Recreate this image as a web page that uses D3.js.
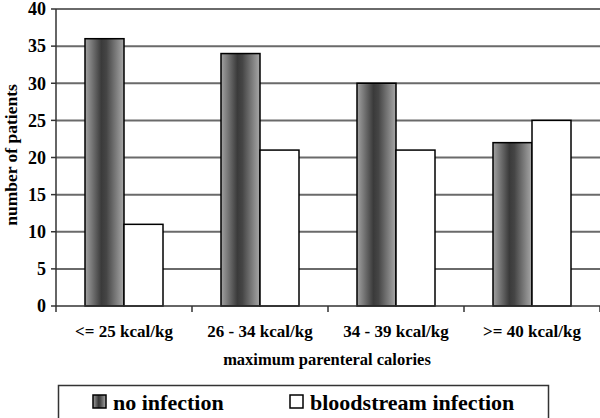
<!DOCTYPE html>
<html><head><meta charset="utf-8">
<script src="https://cdn.jsdelivr.net/npm/d3@7"></script>
</head><body style="margin:0">
<svg id="c" width="600" height="418"></svg>
<script>
const categories = ["<= 25 kcal/kg", "26 - 34 kcal/kg", "34 - 39 kcal/kg", ">= 40 kcal/kg"];
const seriesNames = ["no infection", "bloodstream infection"];
const noInfection = [36, 34, 30, 22];
const bloodstream = [11, 21, 21, 25];
const yTicks = [0, 5, 10, 15, 20, 25, 30, 35, 40];

const svg = d3.select("#c");
const m = {l: 56, r: 600, t: 9, b: 306};
const defs = svg.append("defs");
const g = defs.append("linearGradient").attr("id", "grad").attr("x1", "0").attr("x2", "1").attr("y1", "0").attr("y2", "0");
[[0, "#a2a2a2"], [0.42, "#3a3a3a"], [0.55, "#454545"], [1, "#a8a8a8"]].forEach(([o, c]) => g.append("stop").attr("offset", o).attr("stop-color", c));

const x = d3.scaleBand().domain(categories).range([m.l, m.r]).paddingInner(0).paddingOuter(0);
const y = d3.scaleLinear().domain([0, 40]).range([m.b, m.t]);
const barW = 39;

function label(sel, size) {
  return sel.attr("font-family", "Liberation Serif").attr("font-weight", "bold").attr("font-size", size).attr("fill", "#000");
}

svg.append("g").selectAll("line").data(yTicks.filter(d => d > 0)).join("line")
  .attr("x1", m.l).attr("x2", m.r).attr("y1", d => y(d)).attr("y2", d => y(d))
  .attr("stroke", "#6a6a6a").attr("stroke-width", 2);

const data = categories.map((c, i) => ({c, v: [noInfection[i], bloodstream[i]]}));
const grp = svg.append("g");
data.forEach(d => {
  const cx = x(d.c) + x.bandwidth() / 2;
  grp.append("rect").attr("x", cx - barW).attr("y", y(d.v[0])).attr("width", barW).attr("height", y(0) - y(d.v[0]))
    .attr("fill", "url(#grad)").attr("stroke", "#000").attr("stroke-width", 1.5);
  grp.append("rect").attr("x", cx).attr("y", y(d.v[1])).attr("width", barW).attr("height", y(0) - y(d.v[1]))
    .attr("fill", "#fff").attr("stroke", "#000").attr("stroke-width", 1.5);
});

// y axis
const ya = svg.append("g").attr("transform", `translate(${m.l},0)`);
ya.append("line").attr("x1", 0).attr("x2", 0).attr("y1", m.t).attr("y2", m.b).attr("stroke", "#333").attr("stroke-width", 1.5);
ya.selectAll("line.t").data(yTicks).join("line").attr("class", "t")
  .attr("x1", -5).attr("x2", 0).attr("y1", d => y(d)).attr("y2", d => y(d)).attr("stroke", "#333").attr("stroke-width", 1.5);
label(ya.selectAll("text").data(yTicks).join("text"), 18)
  .attr("x", -10).attr("y", d => y(d)).attr("dy", "0.35em").attr("text-anchor", "end").text(d => d);

// x axis
svg.append("line").attr("x1", m.l).attr("x2", m.r).attr("y1", m.b).attr("y2", m.b).attr("stroke", "#333").attr("stroke-width", 1.5);
svg.append("g").selectAll("line").data(d3.range(categories.length + 1)).join("line")
  .attr("x1", i => m.l + i * x.bandwidth()).attr("x2", i => m.l + i * x.bandwidth())
  .attr("y1", m.b).attr("y2", m.b + 6).attr("stroke", "#333").attr("stroke-width", 1.5);
label(svg.append("g").selectAll("text").data(categories).join("text"), 17)
  .attr("x", d => x(d) + x.bandwidth() / 2).attr("y", 337).attr("text-anchor", "middle").text(d => d);

label(svg.append("text"), 16.5).attr("x", 327).attr("y", 365).attr("text-anchor", "middle").text("maximum parenteral calories");
label(svg.append("text"), 17.5).attr("transform", "translate(17,155) rotate(-90)").attr("text-anchor", "middle").text("number of patients");

// legend
svg.append("rect").attr("x", 58.5).attr("y", 385.5).attr("width", 490).attr("height", 40).attr("fill", "#fff").attr("stroke", "#333").attr("stroke-width", 1.5);
const lg = [{n: seriesNames[0], f: "url(#grad)", x: 93}, {n: seriesNames[1], f: "#fff", x: 290}];
lg.forEach(d => {
  svg.append("rect").attr("x", d.x).attr("y", 395).attr("width", 13).attr("height", 13).attr("fill", d.f).attr("stroke", "#000").attr("stroke-width", 1.5);
  label(svg.append("text"), 22).attr("x", d.x + 20).attr("y", 410).text(d.n);
});
</script>
</body></html>
